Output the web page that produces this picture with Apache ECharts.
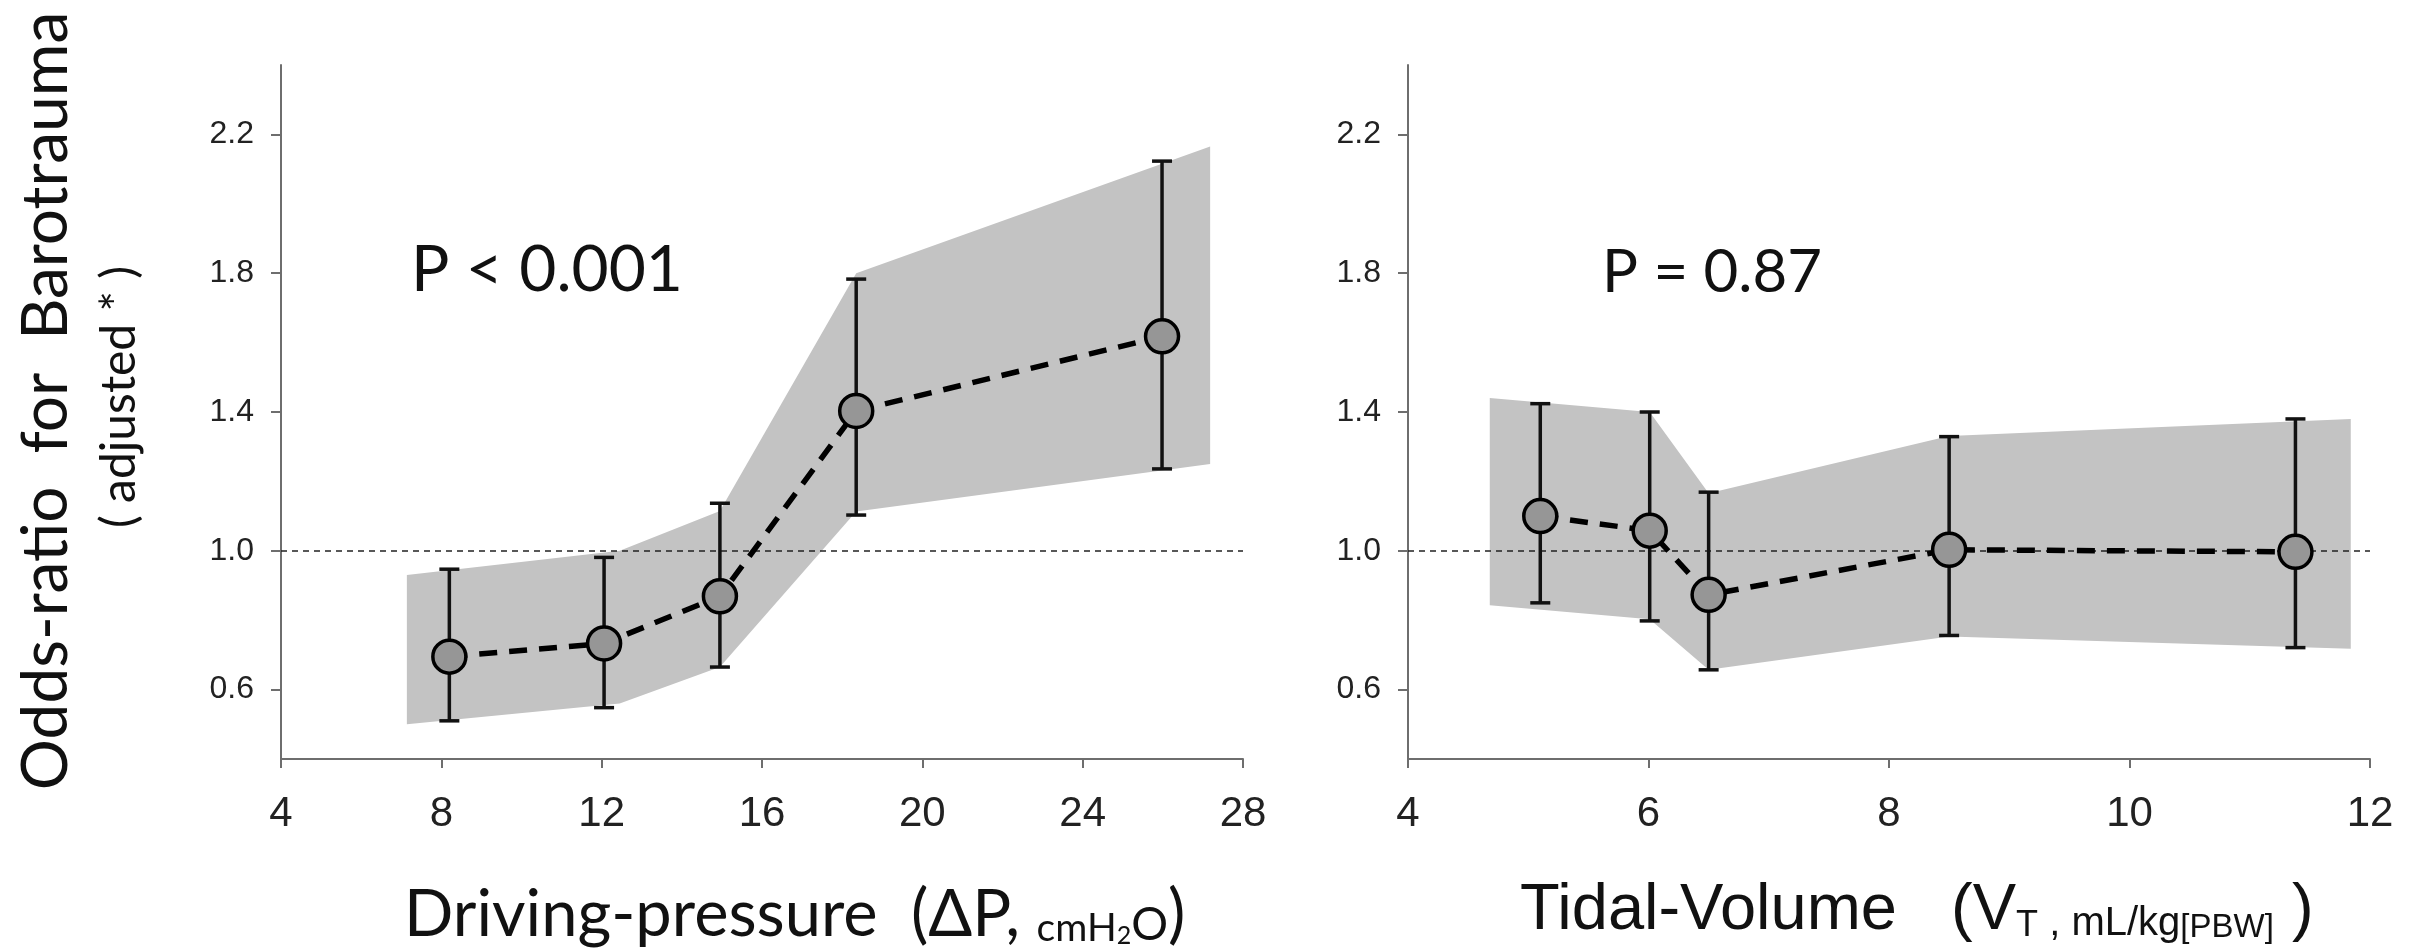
<!DOCTYPE html>
<html>
<head>
<meta charset="utf-8">
<script src="https://cdn.jsdelivr.net/npm/echarts@6/dist/echarts.min.js"></script>
<style>
html,body{margin:0;padding:0;background:#fff;}
#chart{width:2417px;height:948px;}
</style>
</head>
<body>
<div id="chart"></div>
<script>
// ---- Data: Driving-pressure panel ----
const dpX    = [8.2, 12.06, 14.95, 18.35, 25.98];
const dpOR   = [0.695, 0.733, 0.869, 1.403, 1.618];
const dpLow  = [0.51, 0.548, 0.665, 1.103, 1.236];
const dpHigh = [0.947, 0.981, 1.137, 1.783, 2.123];
const dpBandX    = [7.14, 12.45, 14.95, 18.35, 27.18];
const dpBandUp   = [0.93, 1.0, 1.115, 1.80, 2.165];
const dpBandLow  = [0.50, 0.56, 0.665, 1.113, 1.25];

// ---- Data: Tidal-Volume panel ----
const vtX    = [5.1, 6.01, 6.5, 8.5, 11.38];
const vtOR   = [1.10, 1.058, 0.873, 1.003, 0.997];
const vtLow  = [0.85, 0.798, 0.657, 0.756, 0.721];
const vtHigh = [1.424, 1.40, 1.169, 1.329, 1.38];
const vtBandX   = [4.68, 6.01, 6.5, 8.5, 11.84];
const vtBandUp  = [1.44, 1.40, 1.166, 1.331, 1.38];
const vtBandLow = [0.843, 0.803, 0.657, 0.753, 0.718];

// ---- Axis ticks ----
const yTicks = [0.6, 1.0, 1.4, 1.8, 2.2];
const refOR = 1.0;
const pLeft = 'P < 0.001';
const pRight = 'P = 0.87';

const chart = echarts.init(document.getElementById('chart'), null, {renderer: 'canvas'});

const axisColor = '#6e6e6e';
const labelFont = 'Liberation Sans, Arial, sans-serif';
const calFont = 'Lato, Carlito, Calibri, sans-serif';

function xAxisDef(gi, min, max, interval) {
  return {
    type: 'value', gridIndex: gi, min: min, max: max, interval: interval,
    axisLine: {show: true, onZero: false, lineStyle: {color: axisColor, width: 2}},
    axisTick: {show: true, length: 9, lineStyle: {color: axisColor, width: 2}},
    axisLabel: {fontSize: 42, fontFamily: labelFont, color: '#222', margin: 34, showMinLabel: true, showMaxLabel: true},
    splitLine: {show: false}
  };
}
function yAxisDef(gi) {
  return {
    type: 'value', gridIndex: gi, min: 0.4, max: 2.4,
    axisLine: {show: true, onZero: false, lineStyle: {color: axisColor, width: 2}},
    axisTick: {show: true, length: 10, customValues: yTicks, lineStyle: {color: axisColor, width: 2}},
    axisLabel: {customValues: yTicks, fontSize: 32, fontFamily: labelFont, color: '#222', margin: 27,
                formatter: v => Number(v).toFixed(1)},
    splitLine: {show: false}
  };
}

function bandSeries(gi, bx, up, lo) {
  return {
    type: 'custom', xAxisIndex: gi, yAxisIndex: gi, z: 1, silent: true,
    data: [[bx[0], up[0]]],
    renderItem: function (params, api) {
      const pts = [];
      for (let i = 0; i < bx.length; i++) pts.push(api.coord([bx[i], up[i]]));
      for (let i = bx.length - 1; i >= 0; i--) pts.push(api.coord([bx[i], lo[i]]));
      return {type: 'polygon', shape: {points: pts}, style: {fill: '#c3c3c3'}};
    },
    markLine: {
      silent: true, symbol: ['none', 'none'], label: {show: false},
      lineStyle: {type: [6, 5], width: 1.5, color: '#222'},
      data: [{yAxis: refOR}], z: 2
    }
  };
}
function errSeries(gi, xs, lo, hi) {
  return {
    type: 'custom', xAxisIndex: gi, yAxisIndex: gi, z: 3, silent: true,
    data: xs.map((x, i) => [x, lo[i], hi[i]]),
    encode: {x: 0, y: [1, 2]},
    renderItem: function (params, api) {
      const x = api.value(0);
      const a = api.coord([x, api.value(1)]);
      const b = api.coord([x, api.value(2)]);
      const w = 10;
      const st = {stroke: '#111', lineWidth: 3.5};
      return {type: 'group', children: [
        {type: 'line', shape: {x1: a[0], y1: a[1], x2: b[0], y2: b[1]}, style: st},
        {type: 'line', shape: {x1: a[0] - w, y1: a[1], x2: a[0] + w, y2: a[1]}, style: st},
        {type: 'line', shape: {x1: b[0] - w, y1: b[1], x2: b[0] + w, y2: b[1]}, style: st}
      ]};
    }
  };
}
function pointSeries(gi, xs, ys) {
  return {
    type: 'line', xAxisIndex: gi, yAxisIndex: gi, z: 5, silent: true,
    data: xs.map((x, i) => [x, ys[i]]),
    symbol: 'circle', symbolSize: 33, showAllSymbol: true,
    lineStyle: {type: [18, 12], width: 5.5, color: '#000'},
    itemStyle: {color: '#969696', borderColor: '#000', borderWidth: 3.5}
  };
}

const option = {
  animation: false,
  backgroundColor: '#fff',
  grid: [
    {left: 281, top: 65, width: 962, height: 694},
    {left: 1408, top: 65, width: 962, height: 694}
  ],
  xAxis: [xAxisDef(0, 4, 28, 4), xAxisDef(1, 4, 12, 2)],
  yAxis: [yAxisDef(0), yAxisDef(1)],
  series: [
    bandSeries(0, dpBandX, dpBandUp, dpBandLow),
    errSeries(0, dpX, dpLow, dpHigh),
    pointSeries(0, dpX, dpOR),
    bandSeries(1, vtBandX, vtBandUp, vtBandLow),
    errSeries(1, vtX, vtLow, vtHigh),
    pointSeries(1, vtX, vtOR)
  ],
  graphic: [
    {type: 'text', x: 46, y: 401, rotation: Math.PI / 2,
     style: {text: 'Odds-ratio  for  Barotrauma', font: '64px ' + calFont, fill: '#111',
             align: 'center', verticalAlign: 'middle', textAlign: 'center', textVerticalAlign: 'middle'}},
    {type: 'text', x: 120, y: 397, rotation: Math.PI / 2,
     style: {text: '( adjusted * )', font: '48px ' + calFont, fill: '#111',
             align: 'center', verticalAlign: 'middle', textAlign: 'center', textVerticalAlign: 'middle'}},
    {type: 'text', x: 411, y: 270,
     style: {text: pLeft, font: '64px ' + calFont, fill: '#111',
             align: 'left', verticalAlign: 'middle', textAlign: 'left', textVerticalAlign: 'middle'}},
    {type: 'text', x: 1602, y: 273,
     style: {text: pRight, font: '60px ' + calFont, fill: '#111',
             align: 'left', verticalAlign: 'middle', textAlign: 'left', textVerticalAlign: 'middle'}},
    {type: 'text', x: 404, y: 948,
     style: {
       text: '{a|Driving-pressure  (ΔP, }{b|cmH}{s|2}{c|O}{a|)}',
       align: 'left', verticalAlign: 'bottom', textAlign: 'left', textVerticalAlign: 'bottom',
       fill: '#111',
       rich: {
         a: {font: '65px ' + calFont, fill: '#111', verticalAlign: 'bottom', lineHeight: 66},
         b: {font: '39px ' + calFont, fill: '#111', verticalAlign: 'bottom', lineHeight: 48},
         s: {font: '25px ' + calFont, fill: '#111', verticalAlign: 'bottom', lineHeight: 20},
         c: {font: '46px ' + calFont, fill: '#111', verticalAlign: 'bottom', lineHeight: 54}
       }
     }},
    {type: 'text', x: 1520, y: 944,
     style: {
       text: '{a|Tidal-Volume   (V}{s|T}{b| , mL/kg}{c|[PBW]}{a| )}',
       align: 'left', verticalAlign: 'bottom', textAlign: 'left', textVerticalAlign: 'bottom',
       fill: '#111',
       rich: {
         a: {font: '65px ' + labelFont, fill: '#111', verticalAlign: 'bottom', lineHeight: 66},
         s: {font: '36px ' + labelFont, fill: '#111', verticalAlign: 'bottom', lineHeight: 22},
         b: {font: '40px ' + labelFont, fill: '#111', verticalAlign: 'bottom', lineHeight: 50},
         c: {font: '33px ' + labelFont, fill: '#111', verticalAlign: 'bottom', lineHeight: 46}
       }
     }}
  ]
};
chart.setOption(option);
</script>
</body>
</html>
